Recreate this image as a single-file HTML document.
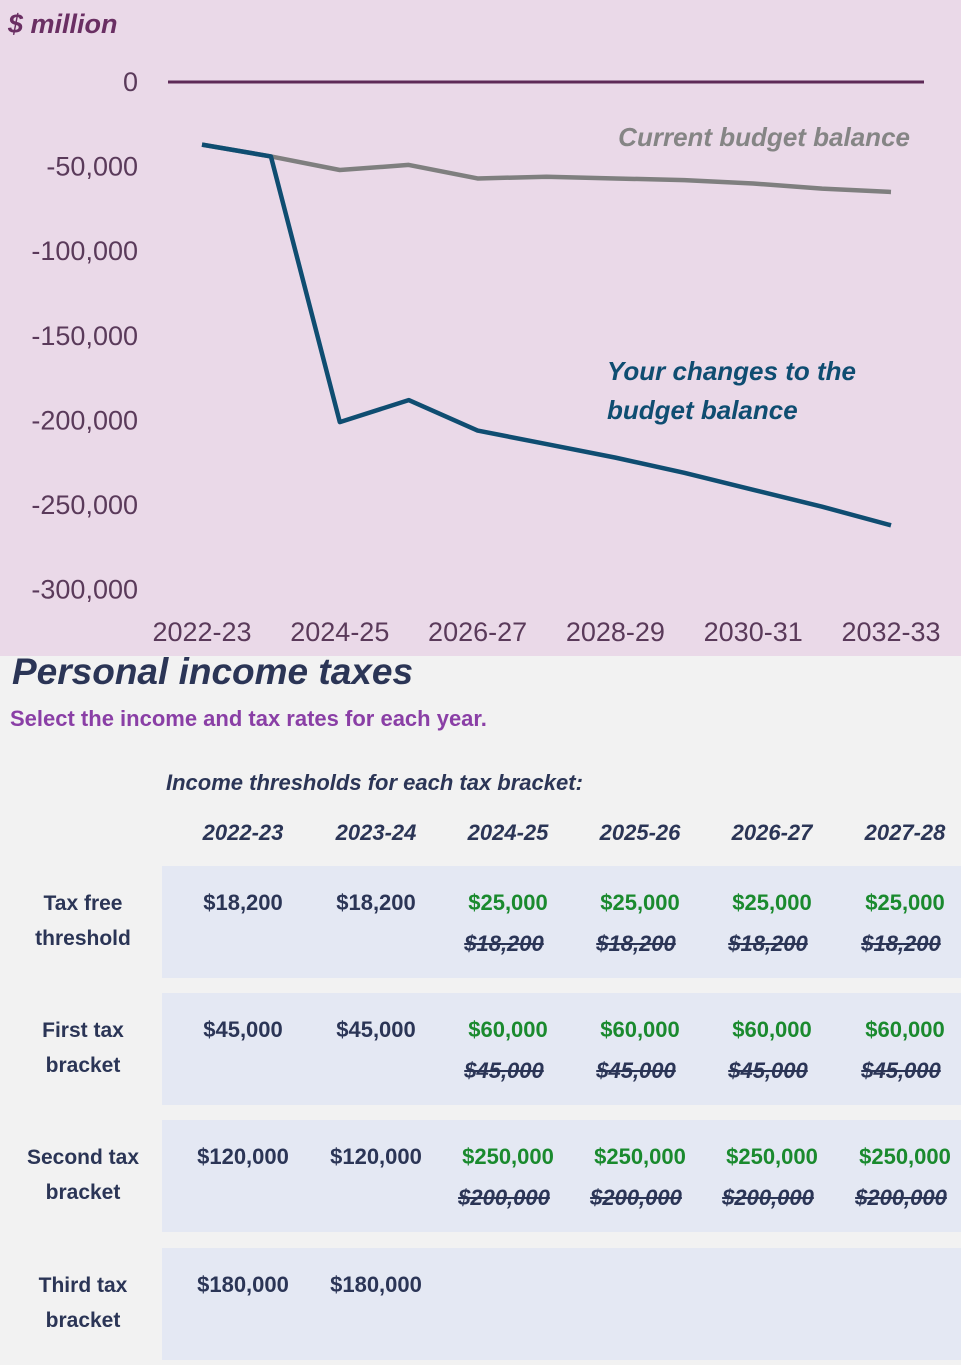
<!DOCTYPE html>
<html><head><meta charset="utf-8"><style>
body{margin:0;width:961px;height:1365px;background:#f2f2f2;font-family:"Liberation Sans",sans-serif;position:relative;overflow:hidden}
#chart{position:absolute;left:0;top:0;width:961px;height:656px;background:#ead9e8}
.abs{position:absolute;white-space:nowrap}
.cell{position:absolute;background:#e4e8f3}
.v{position:absolute;font-weight:bold;font-size:22px;color:#2b3556;text-align:center;width:130px}
.g{color:#1a8a2e}
.s{text-decoration:line-through;font-style:italic}
.rl{position:absolute;left:0;width:166px;text-align:center;font-weight:bold;font-size:21px;color:#2b3556;line-height:35px}
.yh{position:absolute;font-weight:bold;font-style:italic;font-size:22px;color:#2b3556;width:130px;text-align:center}
</style></head><body>
<div id="chart">
<svg id="svg" width="961" height="656"></svg>
</div>
<div class="abs" style="left:12px;top:651px;font-size:37px;font-weight:bold;font-style:italic;color:#2b3556">Personal income taxes</div>
<div class="abs" style="left:10px;top:706px;font-size:22px;font-weight:bold;color:#8a3fa6">Select the income and tax rates for each year.</div>
<div class="abs" style="left:166px;top:770px;font-size:22px;font-weight:bold;font-style:italic;color:#2b3556">Income thresholds for each tax bracket:</div>
<div id="tbl"></div>
<script>
const years=["2022-23","2024-25","2026-27","2028-29","2030-31","2032-33"];
const allYears=["2022-23","2023-24","2024-25","2025-26","2026-27","2027-28","2028-29","2029-30","2030-31","2031-32","2032-33"];
const current=[-37000,-44000,-52000,-49000,-57000,-56000,-57000,-58000,-60000,-63000,-65000];
const changes=[-37000,-44000,-201000,-188000,-206000,-214000,-222000,-231000,-241000,-251000,-262000];
const yTicks=[0,-50000,-100000,-150000,-200000,-250000,-300000];
const yTickLabels=["0","-50,000","-100,000","-150,000","-200,000","-250,000","-300,000"];
const NS="http://www.w3.org/2000/svg";
const svg=document.getElementById('svg');
function y(v){return 82+(-v)/50000*84.6;}
function x(i){return 202+i*68.9;}
function el(t,a){const e=document.createElementNS(NS,t);for(const k in a)e.setAttribute(k,a[k]);svg.appendChild(e);return e;}
const ttl=el('text',{x:8,y:33,'font-size':27,'font-weight':'bold','font-style':'italic',fill:'#6a2f63','font-family':'Liberation Sans'});ttl.textContent='$ million';


yTicks.forEach((t,i)=>{const e=el('text',{x:138,y:y(t)+9,'text-anchor':'end','font-size':27,fill:'#5a3a5a','font-family':'Liberation Sans'});e.textContent=yTickLabels[i];

});
years.forEach((t,i)=>{const e=el('text',{x:x(i*2),y:641,'text-anchor':'middle','font-size':27,fill:'#5a3a5a','font-family':'Liberation Sans'});e.textContent=t;

});
const z=el('line',{x1:168,x2:924,y1:y(0),y2:y(0),stroke:'#5e2a57','stroke-width':3});


const pc=el('polyline',{points:current.map((v,i)=>x(i)+','+y(v)).join(' '),fill:'none',stroke:'#7f7f7f','stroke-width':4.5,'stroke-linejoin':'round'});


const pch=el('polyline',{points:changes.map((v,i)=>x(i)+','+y(v)).join(' '),fill:'none',stroke:'#0f4d71','stroke-width':4.5,'stroke-linejoin':'round'});


const l1=el('text',{x:910,y:146,'text-anchor':'end','font-size':26,'font-weight':'bold','font-style':'italic',fill:'#858585','font-family':'Liberation Sans'});l1.textContent='Current budget balance';


const l2=el('text',{x:607,y:380,'font-size':26,'font-weight':'bold','font-style':'italic',fill:'#0f4d71','font-family':'Liberation Sans'});l2.textContent='Your changes to the';


const l3=el('text',{x:607,y:419,'font-size':26,'font-weight':'bold','font-style':'italic',fill:'#0f4d71','font-family':'Liberation Sans'});l3.textContent='budget balance';



const colYears=["2022-23","2023-24","2024-25","2025-26","2026-27","2027-28"];
const rowLabels=[["Tax free","threshold"],["First tax","bracket"],["Second tax","bracket"],["Third tax","bracket"]];
const newVals=[["$18,200","$18,200","$25,000","$25,000","$25,000","$25,000"],["$45,000","$45,000","$60,000","$60,000","$60,000","$60,000"],["$120,000","$120,000","$250,000","$250,000","$250,000","$250,000"],["$180,000","$180,000","","","",""]];
const oldVals=[["","","$18,200","$18,200","$18,200","$18,200"],["","","$45,000","$45,000","$45,000","$45,000"],["","","$200,000","$200,000","$200,000","$200,000"],["","","","","",""]];
const tbl=document.getElementById('tbl');
const cx=[243,376,508,640,772,905];
colYears.forEach((t,i)=>{const d=document.createElement('div');d.className='yh';d.style.left=(cx[i]-65)+'px';d.style.top='820px';d.textContent=t;

tbl.appendChild(d);});
const rowTop=[866,993,1120,1248];
rowLabels.forEach((r,ri)=>{
 const c=document.createElement('div');c.className='cell';c.style.left='162px';c.style.width='799px';c.style.top=rowTop[ri]+'px';c.style.height='112px';
 
 tbl.appendChild(c);
 const l=document.createElement('div');l.className='rl';l.style.top=(rowTop[ri]+20)+'px';l.innerHTML=r[0]+'<br>'+r[1];
 
 tbl.appendChild(l);
 newVals[ri].forEach((v,ci)=>{if(!v)return;const d=document.createElement('div');d.className='v'+(ci>=2?' g':'');d.style.left=(cx[ci]-65)+'px';d.style.top=(rowTop[ri]+24)+'px';d.textContent=v;
  
  tbl.appendChild(d);});
 oldVals[ri].forEach((v,ci)=>{if(!v)return;const d=document.createElement('div');d.className='v s';d.style.left=(cx[ci]-69)+'px';d.style.top=(rowTop[ri]+65)+'px';d.textContent=v;
  
  tbl.appendChild(d);});
});
</script>
</body></html>
